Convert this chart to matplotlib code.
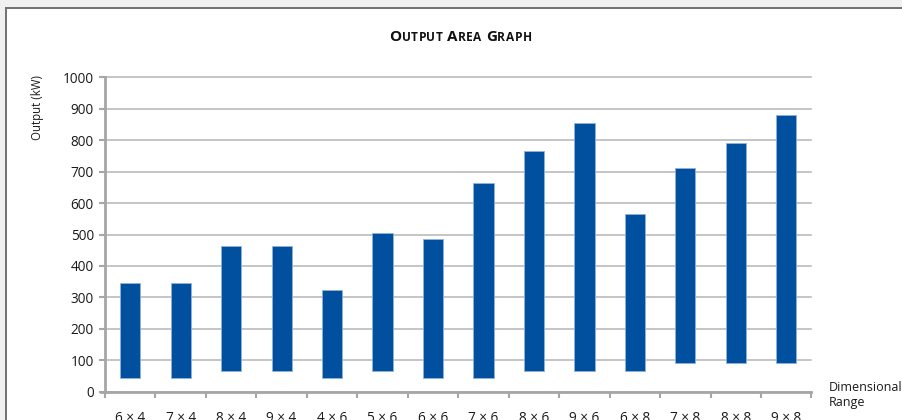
import numpy as np
import matplotlib.pyplot as plt
from matplotlib.patches import Rectangle
from matplotlib.lines import Line2D

plt.rcParams['font.family'] = ['Open Sans', 'DejaVu Sans']

################################################################################################

sizes = ['6 × 4', '7 × 4', '8 × 4', '9 × 4', '4 × 6', '5 × 6', '6 × 6',
         '7 × 6', '8 × 6', '9 × 6', '6 × 8', '7 × 8', '8 × 8', '9 × 8']
out_min = [45, 45, 65, 65, 45, 65, 45, 45, 65, 65, 65, 90, 90, 90]
out_max = [345, 345, 465, 465, 325, 505, 485, 665, 765, 855, 565, 710, 790, 880]

################################################################################################

W, H = 903, 420
fig = plt.figure(figsize=(W/100, H/100), dpi=100, facecolor='#f0f0f0')

# white panel with a dark edge on the left and top
fig.patches.append(Rectangle((6/W, 0), 1, (H - 8)/H, transform=fig.transFigure,
                             facecolor='white', edgecolor='none', zorder=-2))
fig.lines.append(Line2D([6/W, 6/W], [0, (H - 8)/H], transform=fig.transFigure,
                        color='#707070', lw=1.4, zorder=-1))
fig.lines.append(Line2D([6/W, 1], [(H - 8)/H, (H - 8)/H], transform=fig.transFigure,
                        color='#707070', lw=1.4, zorder=-1))

ax = fig.add_axes([105/W, (H - 391.7)/H, (811.5 - 105)/W, (391.7 - 77.3)/H])
ax.set_zorder(1)
ax.set_facecolor('none')

x = np.arange(len(sizes))
lo = np.array(out_min)
hi = np.array(out_max)
ax.bar(x, hi - lo, bottom=lo, width=0.4, color='#00509f',
       edgecolor='#8fb2d9', linewidth=0.6, zorder=3)

ax.set_xlim(-0.5, len(sizes) - 0.5)
ax.set_ylim(0, 1000)
ax.set_yticks(np.arange(0, 1001, 100))
ax.yaxis.grid(True, color='#b5b5b5', lw=1.1, clip_on=False)
ax.set_axisbelow(True)

for s in ['top', 'right']:
    ax.spines[s].set_visible(False)
for s in ['left', 'bottom']:
    ax.spines[s].set_color('#a6a6a6')
    ax.spines[s].set_linewidth(2.0)
ax.spines['bottom'].set_bounds(-0.58, len(sizes) - 0.5)

ax.tick_params(axis='y', length=4, width=1.5, color='#a6a6a6', pad=4,
               labelsize=9.8, labelcolor='#1a1a1a')
ax.set_xticks(x)
ax.set_xticklabels(sizes)
ax.set_xticks(np.arange(-0.5, len(sizes)), minor=True)
ax.tick_params(axis='x', which='major', length=0, pad=14, labelsize=9.8,
               labelcolor='#1a1a1a')
ax.tick_params(axis='x', which='minor', length=4, width=1.5, color='#a6a6a6')

fig.text(37/W, 1 - 108/H, 'Output (kW)', rotation=90, ha='center', va='center',
         fontsize=8.3, color='#1a1a1a')
fig.text(829/W, 1 - 395/H, 'Dimensional\nRange', ha='left', va='center',
         fontsize=9, color='#1a1a1a', linespacing=1.2)

################################################################################################

# small caps title, one letter at a time so the spacing can be opened up
title = 'Output Area Graph'
big, small, gap = 11.0, 8.6, 0.35

anchor = None
for ch in title:
    fs = big if ch.isupper() else small
    if ch == ' ':
        fs = small
    if anchor is None:
        anchor = fig.text(389/W, 1 - 41/H, ch.upper(), fontsize=fs, weight='bold',
                          color='#111111', va='baseline')
    else:
        anchor = ax.annotate(ch.upper(), xy=(1, 0), xycoords=anchor, xytext=(gap, 0),
                             textcoords='offset points', fontsize=fs, weight='bold',
                             color='#111111', va='bottom', annotation_clip=False)

fig.savefig('out.png', dpi=100, facecolor=fig.get_facecolor())
